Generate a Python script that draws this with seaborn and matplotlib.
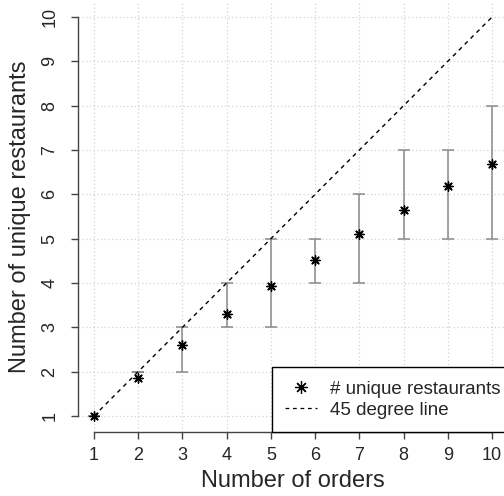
import matplotlib
matplotlib.use("Agg")
import matplotlib.pyplot as plt
import seaborn as sns
import numpy as np
import pandas as pd
from matplotlib.lines import Line2D

orders = [1, 2, 3, 4, 5, 6, 7, 8, 9, 10]
mean_unique = [1.0, 1.85, 2.6, 3.3, 3.93, 4.53, 5.1, 5.65, 6.18, 6.68]
lower = [1, 2, 2, 3, 3, 4, 4, 5, 5, 5]
upper = [1, 2, 3, 4, 5, 5, 6, 7, 7, 8]
ticks = [1, 2, 3, 4, 5, 6, 7, 8, 9, 10]

sns.set_style("white")
plt.rcParams['font.family'] = ['Liberation Sans', 'DejaVu Sans']

df = pd.DataFrame({"orders": orders, "mean": mean_unique, "lo": lower, "hi": upper})

fig = plt.figure(figsize=(5.04, 4.96), dpi=100)
W, H = 504, 496
ax = fig.add_axes([78 / W, (H - 432) / H, 430 / W, 431 / H])

ax.set_xlim(0.64, 10.36)
ax.set_ylim(0.64, 10.36)

ax.grid(True, color='#d3d3d3', linestyle=(0, (1, 2)), linewidth=0.9)
ax.set_axisbelow(True)

# error bars (interval lower..upper)
mid = (df["lo"] + df["hi"]) / 2
half = (df["hi"] - df["lo"]) / 2
ax.errorbar(df["orders"], mid, yerr=half, fmt='none', ecolor='#8a8a8a',
            elinewidth=1.1, capsize=4.5, capthick=1.1, zorder=2)

# 45 degree line
diag = pd.DataFrame({"x": [1, 10], "y": [1, 10]})
sns.lineplot(data=diag, x="x", y="y", ax=ax, color='black', linewidth=1.0,
             linestyle=(0, (3, 3)), zorder=3)

# points
sns.scatterplot(data=df, x="orders", y="mean", ax=ax, marker=(8, 2, 0), s=45,
                color='black', linewidth=1.0, zorder=4)

ax.set_xticks(ticks)
ax.set_yticks(ticks)
ax.set_xticklabels([str(t) for t in ticks], fontsize=13)
ax.set_yticklabels([str(t) for t in ticks], fontsize=13, rotation=90, va='center')

for s in ['top', 'right']:
    ax.spines[s].set_visible(False)
ax.spines['left'].set_bounds(1, 10)
ax.spines['bottom'].set_bounds(1, 10)
for s in ['left', 'bottom']:
    ax.spines[s].set_color('#444444')
    ax.spines[s].set_linewidth(1.0)

ax.tick_params(axis='both', which='both', direction='out', length=5, width=1.0,
               color='#444444', bottom=True, left=True)
ax.tick_params(axis='x', pad=6)
ax.tick_params(axis='y', pad=9)

ax.set_xlabel("Number of orders", fontsize=17)
ax.set_ylabel("Number of unique restaurants", fontsize=17)
ax.xaxis.set_label_coords((293 - 78) / 430, (432 - 481) / 431)
ax.xaxis.label.set_va('center')
ax.yaxis.set_label_coords((20 - 78) / 430, 0.5)
ax.yaxis.label.set_va('center')

handles = [
    Line2D([], [], marker=(8, 2, 0), color='black', linestyle='none',
           markersize=9, markeredgewidth=0.9),
    Line2D([], [], color='black', linestyle=(0, (3, 3)), linewidth=0.9),
]
leg = ax.legend(handles, ["# unique restaurants", "45 degree line"],
                loc='lower right', bbox_to_anchor=((514 - 78) / 430, 0.0),
                borderaxespad=0,
                fontsize=13.5, frameon=True, fancybox=False, edgecolor='black',
                framealpha=1, borderpad=0.7, handlelength=1.7,
                handletextpad=0.7, labelspacing=0.22)
leg.get_frame().set_linewidth(1.0)

fig.savefig("out.png", dpi=100)
